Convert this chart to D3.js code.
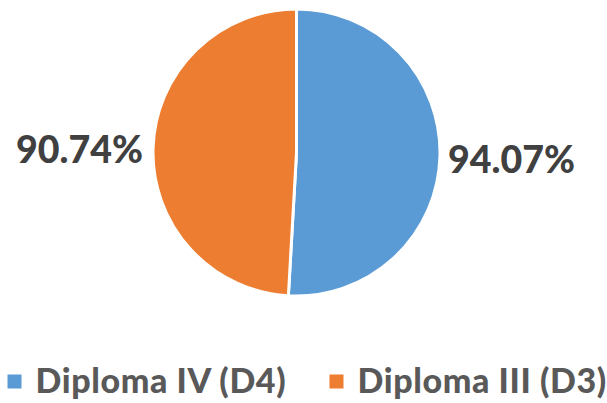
<!DOCTYPE html>
<html>
<head>
<meta charset="utf-8">
<script src="https://cdn.jsdelivr.net/npm/d3@7"></script>
<style>
  body { margin: 0; background: #fff; }
  svg text { font-family: Lato, "Open Sans", sans-serif; font-weight: 900; }
</style>
</head>
<body>
<svg class="chart" width="607" height="403"></svg>
<script>
var categories = ["Diploma IV (D4)", "Diploma III (D3)"];
var values = [94.07, 90.74];
var labels = ["94.07%", "90.74%"];
var colors = ["#5B9BD5", "#ED7D31"];

var svg = d3.select(".chart"),
    cx = 296.5,
    cy = 152.5,
    radius = 143.5;

var pie = d3.pie().sort(null).value(function (d) { return d; });
var arc = d3.arc().innerRadius(0).outerRadius(radius);
var arcs = pie(values);

var g = svg.append("g").attr("transform", "translate(" + cx + "," + cy + ")");

g.selectAll(".slice")
    .data(arcs)
    .enter()
    .append("path")
    .attr("class", "slice")
    .attr("fill", function (d, i) { return colors[i]; })
    .attr("stroke", "#fff")
    .attr("stroke-width", 3)
    .attr("stroke-linejoin", "round")
    .attr("d", arc);

// data labels sit just outside the pie, to the side of each slice
function mid(d) { return (d.startAngle + d.endAngle) / 2; }

g.selectAll(".label")
    .data(arcs)
    .enter()
    .append("text")
    .attr("class", "label")
    .attr("x", function (d) { return mid(d) < Math.PI ? radius + 8 : -radius - 10; })
    .attr("y", function (d) { return mid(d) < Math.PI ? 20.5 : 10.5; })
    .attr("text-anchor", function (d) { return mid(d) < Math.PI ? "start" : "end"; })
    .attr("fill", "#404040")
    .attr("font-size", "37.5px")
    .text(function (d, i) { return labels[i]; });

// legend
var legendX = [7.5, 329.5];
var legend = svg.selectAll(".legend")
    .data(categories)
    .enter()
    .append("g")
    .attr("class", "legend")
    .attr("transform", function (d, i) { return "translate(" + legendX[i] + ",374.5)"; });

legend.append("rect")
    .attr("width", 14)
    .attr("height", 14)
    .attr("fill", function (d, i) { return colors[i]; });

legend.append("text")
    .attr("x", 28)
    .attr("y", 18.5)
    .attr("fill", "#595959")
    .attr("font-size", "34px")
    .attr("letter-spacing", "0.6px")
    .text(function (d) { return d; });
</script>
</body>
</html>
